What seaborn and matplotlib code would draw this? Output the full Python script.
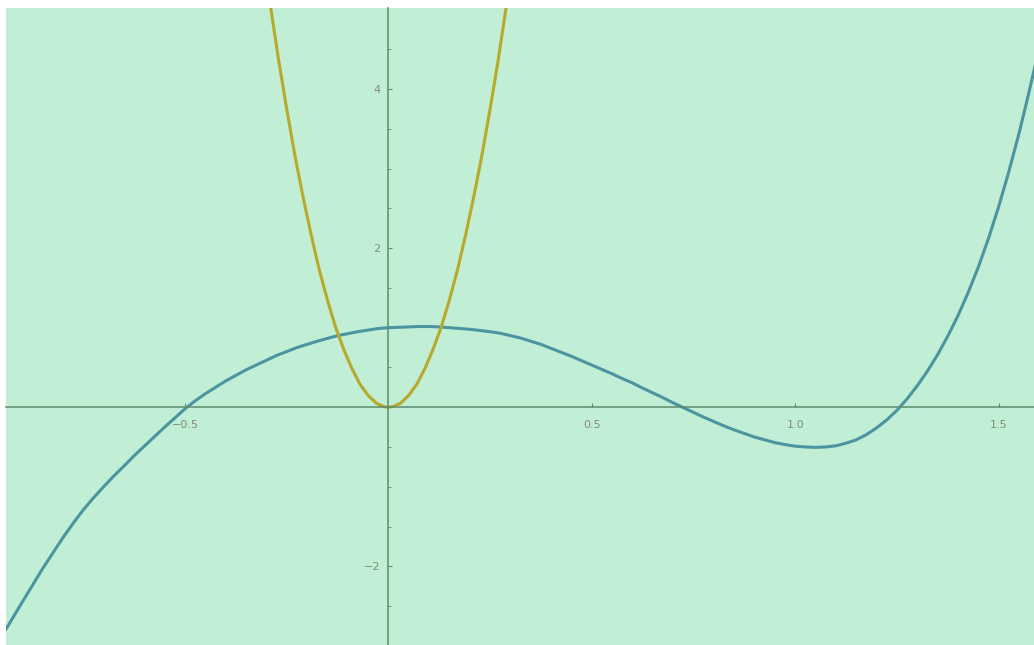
import numpy as np
import pandas as pd
import matplotlib
matplotlib.use("Agg")
import matplotlib.pyplot as plt
import seaborn as sns

# blue curve, values
blue_x = [-0.94, -0.92, -0.90, -0.875, -0.85, -0.825, -0.80, -0.775, -0.75, -0.725,
          -0.70, -0.675, -0.65, -0.625, -0.60, -0.575, -0.55, -0.525, -0.50, -0.475,
          -0.45, -0.425, -0.40, -0.375, -0.35, -0.325, -0.30, -0.275, -0.25, -0.225,
          -0.20, -0.175, -0.15, -0.125, -0.10, -0.075, -0.05, -0.025, 0.00, 0.025,
          0.05, 0.075, 0.10, 0.125, 0.15, 0.175, 0.20, 0.225, 0.25, 0.275,
          0.30, 0.325, 0.35, 0.375, 0.40, 0.425, 0.45, 0.475, 0.50, 0.525,
          0.55, 0.575, 0.60, 0.625, 0.65, 0.675, 0.70, 0.725, 0.75, 0.775,
          0.80, 0.825, 0.85, 0.875, 0.90, 0.925, 0.95, 0.975, 1.00, 1.025,
          1.05, 1.075, 1.10, 1.125, 1.15, 1.175, 1.20, 1.225, 1.25, 1.275,
          1.30, 1.325, 1.35, 1.375, 1.40, 1.425, 1.45, 1.475, 1.50, 1.525,
          1.55, 1.57, 1.59]
blue_y = [-2.79, -2.62, -2.45, -2.24, -2.03, -1.835, -1.64, -1.46, -1.29, -1.14,
          -1.00, -0.865, -0.74, -0.61, -0.49, -0.37, -0.25, -0.135, -0.02, 0.08,
          0.17, 0.25, 0.33, 0.40, 0.47, 0.53, 0.59, 0.65, 0.70, 0.75,
          0.79, 0.83, 0.865, 0.90, 0.925, 0.95, 0.97, 0.99, 1.00, 1.005,
          1.01, 1.015, 1.015, 1.01, 1.00, 0.99, 0.98, 0.965, 0.95, 0.93,
          0.90, 0.87, 0.83, 0.79, 0.74, 0.69, 0.64, 0.585, 0.53, 0.475,
          0.42, 0.36, 0.305, 0.24, 0.18, 0.12, 0.055, -0.005, -0.065, -0.125,
          -0.18, -0.235, -0.285, -0.33, -0.375, -0.41, -0.445, -0.47, -0.49, -0.50,
          -0.505, -0.50, -0.485, -0.452, -0.41, -0.345, -0.26, -0.16, -0.04, 0.105,
          0.27, 0.453, 0.66, 0.893, 1.15, 1.44, 1.76, 2.12, 2.52, 2.96,
          3.44, 3.86, 4.30]

# yellow parabola
yel_x = [-0.29, -0.27, -0.25, -0.23, -0.21, -0.19, -0.17, -0.15, -0.13, -0.11,
         -0.09, -0.07, -0.05, -0.03, -0.01, 0.00, 0.01, 0.03, 0.05, 0.07,
         0.09, 0.11, 0.13, 0.15, 0.17, 0.19, 0.21, 0.23, 0.25, 0.27, 0.29]
yel_y = [5.05, 4.37, 3.75, 3.17, 2.65, 2.17, 1.73, 1.35, 1.01, 0.73,
         0.49, 0.29, 0.15, 0.05, 0.006, 0.00, 0.006, 0.05, 0.15, 0.29,
         0.49, 0.73, 1.01, 1.35, 1.73, 2.17, 2.65, 3.17, 3.75, 4.37, 5.05]

x_ticks = [-0.5, 0.5, 1.0, 1.5]
x_labels = ["\u22120.5", "0.5", "1.0", "1.5"]
y_ticks = [-2, 2, 4]
y_labels = ["\u22122", "2", "4"]

bg = "#c0efd6"
axis_col = "#5e8c6c"
lab_col = "#858a78"

fig = plt.figure(figsize=(10.34, 6.45), dpi=100)
ax = fig.add_axes([6 / 1034, 0, 1028 / 1034, 637 / 645])
ax.set_facecolor(bg)

sns.lineplot(x=blue_x, y=blue_y, ax=ax, color="#4b94a0", lw=2.2, estimator=None)
sns.lineplot(x=yel_x, y=yel_y, ax=ax, color="#b6a92c", lw=2.2, estimator=None)

ax.set_xlim(-0.94, 1.587)
ax.set_ylim(-2.99, 5.02)

for s in ["top", "right"]:
    ax.spines[s].set_visible(False)
ax.spines["left"].set_position(("data", 0))
ax.spines["bottom"].set_position(("data", 0))
for s in ["left", "bottom"]:
    ax.spines[s].set_color(axis_col)
    ax.spines[s].set_linewidth(1.1)

ax.set_xticks(x_ticks)
ax.set_xticklabels(x_labels)
ax.set_yticks(y_ticks)
ax.set_yticklabels(y_labels)
ax.set_yticks([-2.5, -1.5, -1, -0.5, 0.5, 1, 1.5, 2.5, 3, 3.5, 4.5], minor=True)
ax.tick_params(axis="x", which="major", direction="in", length=3,
               color=axis_col, labelsize=8, labelcolor=lab_col, pad=9)
ax.tick_params(axis="y", which="major", direction="in", length=3,
               color=axis_col, labelsize=8, labelcolor=lab_col, pad=6)
ax.tick_params(axis="y", which="minor", direction="in", length=2, color=axis_col)
ax.set_xlabel("")
ax.set_ylabel("")

fig.savefig("out.png", dpi=100, facecolor="white")
